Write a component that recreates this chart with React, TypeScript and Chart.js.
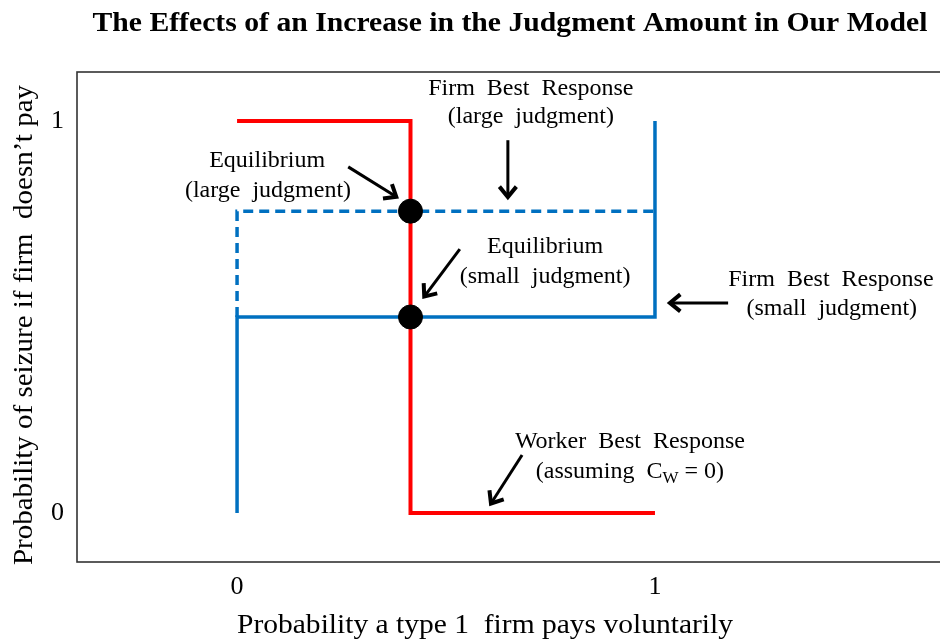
import React, { useEffect, useRef } from 'react';
import { Chart, registerables } from 'chart.js';

Chart.register(...registerables);

// ---- data ----
const chartTitle = 'The Effects of an Increase in the Judgment Amount in Our Model';
const xAxisTitle = 'Probability a type 1  firm pays voluntarily';
const yAxisTitle = 'Probability of seizure if firm  doesn\u2019t pay';
const xTickValues = [0, 1];
const yTickValues = [0, 1];

// Worker best response (red)
const workerX = [0, 0.415, 0.415, 1];
const workerY = [1, 1, 0, 0];
// Firm best response, small judgment (solid blue)
const firmSmallX = [0, 0, 1, 1];
const firmSmallY = [0, 0.5, 0.5, 1];
// Firm best response, large judgment (dashed blue)
const firmLargeX = [0, 0, 1];
const firmLargeY = [0.5, 0.77, 0.77];
// Equilibria
const eqX = [0.415, 0.415];
const eqY = [0.77, 0.5];

// Annotation labels (anchor: centre x, baseline y in data units)
const labelTexts = [
  'Firm  Best  Response',
  '(large  judgment)',
  'Equilibrium',
  '(large  judgment)',
  'Equilibrium',
  '(small  judgment)',
  'Firm  Best  Response',
  '(small  judgment)',
  'Worker  Best  Response',
  '(assuming  C_W = 0)',
];
const labelX = [0.703, 0.703, 0.072, 0.074, 0.737, 0.737, 1.421, 1.423, 0.94, 0.94];
const labelY = [1.066, 0.995, 0.883, 0.806, 0.663, 0.587, 0.579, 0.505, 0.166, 0.089];

// Arrows (from -> to, data units)
const arrowFromX = [0.648, 0.266, 0.533, 1.175, 0.682];
const arrowFromY = [0.951, 0.883, 0.673, 0.536, 0.148];
const arrowToX = [0.648, 0.385, 0.445, 1.031, 0.605];
const arrowToY = [0.801, 0.804, 0.548, 0.536, 0.02];

const SERIF = '"Liberation Serif", "Times New Roman", serif';

function zip(xs: number[], ys: number[]) {
  return xs.map((x, i) => ({ x, y: ys[i] }));
}

function drawStretched(ctx: CanvasRenderingContext2D, text: string, cx: number, baseline: number, font: string, targetW?: number) {
  ctx.save();
  ctx.font = font;
  const w = ctx.measureText(text).width;
  const s = targetW ? targetW / w : 1;
  ctx.translate(cx, baseline);
  ctx.scale(s, 1);
  ctx.textAlign = 'center';
  ctx.textBaseline = 'alphabetic';
  ctx.fillStyle = '#000';
  ctx.fillText(text, 0, 0);
  ctx.restore();
}

function drawRich(ctx: CanvasRenderingContext2D, text: string, cx: number, baseline: number, size: number) {
  // "_X" => X is a subscript
  const segs: { t: string; sub: boolean }[] = [];
  let buf = '';
  for (let i = 0; i < text.length; i++) {
    if (text[i] === '_' && i + 1 < text.length) {
      if (buf) segs.push({ t: buf, sub: false });
      buf = '';
      segs.push({ t: text[i + 1], sub: true });
      i++;
    } else buf += text[i];
  }
  if (buf) segs.push({ t: buf, sub: false });
  ctx.save();
  ctx.fillStyle = '#000';
  ctx.textBaseline = 'alphabetic';
  ctx.textAlign = 'left';
  const fontOf = (sub: boolean) => `${sub ? Math.round(size * 0.7) : size}px ${SERIF}`;
  let total = 0;
  const widths = segs.map((s) => {
    ctx.font = fontOf(s.sub);
    const w = ctx.measureText(s.t).width;
    total += w;
    return w;
  });
  let x = cx - total / 2;
  segs.forEach((s, i) => {
    ctx.font = fontOf(s.sub);
    ctx.fillText(s.t, x, baseline + (s.sub ? size * 0.2 : 0));
    x += widths[i];
  });
  ctx.restore();
}

function drawArrow(ctx: CanvasRenderingContext2D, x1: number, y1: number, x2: number, y2: number) {
  const a = Math.atan2(y2 - y1, x2 - x1);
  const L = 15;
  const W = 0.6;
  ctx.save();
  ctx.strokeStyle = '#000';
  ctx.lineWidth = 3;
  ctx.lineCap = 'butt';
  ctx.beginPath();
  ctx.moveTo(x1, y1);
  ctx.lineTo(x2 - 2 * Math.cos(a), y2 - 2 * Math.sin(a));
  ctx.stroke();
  ctx.lineWidth = 4;
  ctx.lineJoin = 'miter';
  ctx.beginPath();
  ctx.moveTo(x2 - L * Math.cos(a - W), y2 - L * Math.sin(a - W));
  ctx.lineTo(x2 - 2 * Math.cos(a), y2 - 2 * Math.sin(a));
  ctx.lineTo(x2 - L * Math.cos(a + W), y2 - L * Math.sin(a + W));
  ctx.stroke();
  ctx.restore();
}

const decorPlugin = {
  id: 'decor',
  afterDatasetsDraw(chart: any) {
    const ctx: CanvasRenderingContext2D = chart.ctx;
    const xs = chart.scales.x;
    const ys = chart.scales.y;
    arrowFromX.forEach((_, i) => {
      drawArrow(
        ctx,
        xs.getPixelForValue(arrowFromX[i]),
        ys.getPixelForValue(arrowFromY[i]),
        xs.getPixelForValue(arrowToX[i]),
        ys.getPixelForValue(arrowToY[i])
      );
    });
    labelTexts.forEach((t, i) => {
      drawRich(ctx, t, xs.getPixelForValue(labelX[i]), ys.getPixelForValue(labelY[i]), 24);
    });
  },
  afterDraw(chart: any) {
    const ctx: CanvasRenderingContext2D = chart.ctx;
    const a = chart.chartArea;
    ctx.save();
    ctx.strokeStyle = '#333';
    ctx.lineWidth = 1.6;
    ctx.strokeRect(a.left, a.top, a.right - a.left + 4, a.bottom - a.top);
    ctx.restore();
    drawStretched(ctx, chartTitle, 510, 31, `bold 28px ${SERIF}`, 835);
    drawStretched(ctx, xAxisTitle, 485, 633, `27px ${SERIF}`, 496);
    ctx.save();
    ctx.translate(32, 325);
    ctx.rotate(-Math.PI / 2);
    drawStretched(ctx, yAxisTitle, 0, 0, `27px ${SERIF}`, 480);
    ctx.restore();
  },
};

export default function App() {
  const ref = useRef<HTMLCanvasElement>(null);
  useEffect(() => {
    if (!ref.current) return;
    const tickFont = { family: SERIF, size: 26 };
    const chart = new Chart(ref.current, {
      type: 'scatter',
      data: {
        datasets: [
          {
            label: 'Equilibrium',
            data: zip(eqX, eqY),
            pointRadius: 12,
            pointBackgroundColor: '#000',
            pointBorderColor: '#000',
            showLine: false,
            order: 0,
          },
          {
            label: 'Worker Best Response',
            data: zip(workerX, workerY),
            showLine: true,
            borderColor: '#ff0000',
            borderWidth: 4,
            pointRadius: 0,
            borderJoinStyle: 'miter',
            order: 1,
          },
          {
            label: 'Firm Best Response (small judgment)',
            data: zip(firmSmallX, firmSmallY),
            showLine: true,
            borderColor: '#0070c0',
            borderWidth: 3.5,
            pointRadius: 0,
            borderJoinStyle: 'miter',
            order: 2,
          },
          {
            label: 'Firm Best Response (large judgment)',
            data: zip(firmLargeX, firmLargeY),
            showLine: true,
            borderColor: '#0070c0',
            borderWidth: 3.5,
            borderDash: [10, 6],
            pointRadius: 0,
            borderJoinStyle: 'miter',
            order: 3,
          },
        ],
      },
      options: {
        responsive: false,
        animation: false,
        layout: { autoPadding: false, padding: { top: 72, left: 0, right: 0, bottom: 0 } },
        plugins: { legend: { display: false }, tooltip: { enabled: false }, title: { display: false } },
        scales: {
          x: {
            type: 'linear',
            min: -0.383,
            max: 1.682,
            grid: { display: false, drawTicks: false },
            border: { display: false },
            afterBuildTicks: (s: any) => {
              s.ticks = xTickValues.map((v) => ({ value: v }));
            },
            afterFit: (s: any) => {
              s.height = 79;
              s.paddingLeft = 0;
              s.paddingRight = 0;
            },
            ticks: { font: tickFont, color: '#000', padding: 10, maxRotation: 0, callback: (v: any) => String(v) },
          },
          y: {
            type: 'linear',
            min: -0.125,
            max: 1.125,
            grid: { display: false, drawTicks: false },
            border: { display: false },
            afterBuildTicks: (s: any) => {
              s.ticks = yTickValues.map((v) => ({ value: v }));
            },
            afterFit: (s: any) => {
              s.width = 77;
              s.paddingTop = 0;
              s.paddingBottom = 0;
            },
            ticks: { font: tickFont, color: '#000', padding: 13, callback: (v: any) => String(v) },
          },
        },
      },
      plugins: [decorPlugin],
    });
    return () => chart.destroy();
  }, []);
  return (
    <div style={{ position: 'absolute', left: 0, top: 0, width: 940, height: 641, background: '#fff' }}>
      <canvas ref={ref} width={940} height={641} style={{ display: 'block' }} />
    </div>
  );
}
